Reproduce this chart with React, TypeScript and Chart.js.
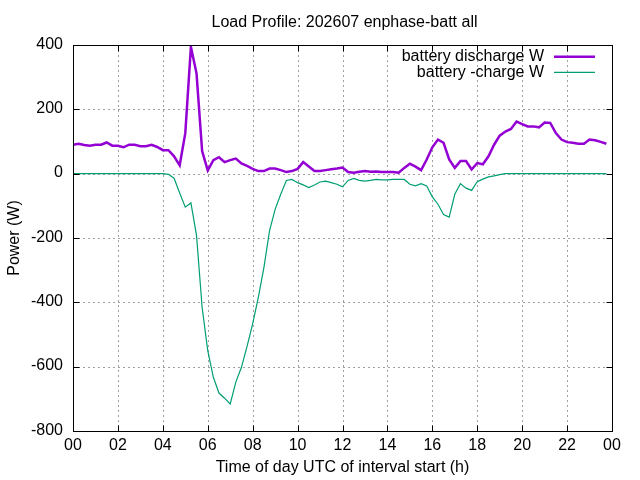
import React, { useEffect, useRef } from "react";
import { Chart, registerables } from "chart.js";

Chart.register(...registerables);

const TITLE = "Load Profile: 202607 enphase-batt all";
const X_TITLE = "Time of day UTC of interval start (h)";
const Y_TITLE = "Power (W)";
const SERIES_NAMES = ["battery discharge W", "battery -charge W"];
const SERIES_COLORS = ["#9400d3", "#009e73"];
const SERIES_WIDTHS = [2.5, 1.2];

const INTERVAL_MINUTES = 15;

const DISCHARGE = [
  90, 93, 89, 87, 90, 90, 97, 87, 87, 82, 90, 90, 85, 85, 90, 83,
  73, 73, 54, 26, 126, 394, 312, 70, 10, 42, 51, 36, 42, 47, 32, 24,
  15, 8, 8, 16, 16, 11, 5, 8, 15, 36, 22, 8, 8, 11, 14, 16,
  19, 5, 3, 6, 8, 6, 7, 5, 5, 5, 3, 18, 31, 22, 11, 44,
  82, 106, 96, 44, 18, 39, 39, 13, 33, 29, 54, 90, 118, 131, 139, 162,
  154, 147, 147, 144, 159, 158, 126, 106, 98, 96, 93, 93, 106, 104, 99, 93,
];

const CHARGE = [
  0, 0, 0, 0, 0, 0, 0, 0, 0, 0, 0, 0, 0, 0, 0, 0,
  0, -2, -14, -60, -104, -91, -192, -416, -550, -633, -682, -698, -716, -648, -602, -537,
  -467, -385, -292, -178, -111, -64, -21, -18, -28, -35, -43, -35, -26, -23, -28, -33,
  -41, -21, -15, -21, -23, -21, -18, -19, -19, -18, -18, -18, -33, -38, -31, -38,
  -72, -95, -127, -135, -64, -31, -45, -52, -25, -17, -10, -7, -3, 0, 0, 0,
  0, 0, 0, 0, 0, 0, 0, 0, 0, 0, 0, 0, 0, 0, 0, 0,
];

const X_TICKS = [0, 2, 4, 6, 8, 10, 12, 14, 16, 18, 20, 22, 24];
const X_TICK_LABELS = ["00", "02", "04", "06", "08", "10", "12", "14", "16", "18", "20", "22", "00"];
const Y_TICKS = [-800, -600, -400, -200, 0, 200, 400];
const Y_TICK_LABELS = ["-800", "-600", "-400", "-200", "0", "200", "400"];

const FONT = "16px 'Liberation Sans', Arial, sans-serif";

const gnuplotPlugin = {
  id: "gnuplotLook",
  beforeDatasetsDraw(chart: any) {
    const { ctx, chartArea: a, scales } = chart;
    const x = scales.x;
    const y = scales.y;
    ctx.save();
    ctx.strokeStyle = "#a0a0a0";
    ctx.lineWidth = 1;
    ctx.setLineDash([2, 3]);
    for (const t of X_TICKS) {
      const px = Math.round(x.getPixelForValue(t)) + 0.5;
      ctx.beginPath();
      ctx.moveTo(px, a.top);
      ctx.lineTo(px, a.bottom);
      ctx.stroke();
    }
    for (const t of Y_TICKS) {
      const py = Math.round(y.getPixelForValue(t)) + 0.5;
      ctx.beginPath();
      ctx.moveTo(a.left, py);
      ctx.lineTo(a.right, py);
      ctx.stroke();
    }
    ctx.restore();
  },
  afterDraw(chart: any) {
    const { ctx, chartArea: a, scales } = chart;
    const x = scales.x;
    const y = scales.y;
    ctx.save();
    ctx.setLineDash([]);
    // border
    ctx.strokeStyle = "#000";
    ctx.lineWidth = 1;
    const L = Math.round(a.left) + 0.5;
    const R = Math.round(a.right) + 0.5;
    const T = Math.round(a.top) + 0.5;
    const B = Math.round(a.bottom) + 0.5;
    ctx.strokeRect(L, T, R - L, B - T);
    // inward ticks
    const tl = 6;
    ctx.beginPath();
    for (const t of X_TICKS) {
      const px = Math.round(x.getPixelForValue(t)) + 0.5;
      ctx.moveTo(px, B);
      ctx.lineTo(px, B - tl);
      ctx.moveTo(px, T);
      ctx.lineTo(px, T + tl);
    }
    for (const t of Y_TICKS) {
      const py = Math.round(y.getPixelForValue(t)) + 0.5;
      ctx.moveTo(L, py);
      ctx.lineTo(L + tl, py);
      ctx.moveTo(R, py);
      ctx.lineTo(R - tl, py);
    }
    ctx.stroke();

    ctx.fillStyle = "#000";
    ctx.font = FONT;
    ctx.textBaseline = "alphabetic";
    // y tick labels
    ctx.textAlign = "right";
    Y_TICKS.forEach((t, i) => {
      const py = y.getPixelForValue(t);
      ctx.fillText(Y_TICK_LABELS[i], a.left - 10, py + 3.5);
    });
    // x tick labels
    ctx.textAlign = "center";
    X_TICKS.forEach((t, i) => {
      const px = x.getPixelForValue(t);
      ctx.fillText(X_TICK_LABELS[i], px, a.bottom + 19);
    });
    // title
    const cx = (a.left + a.right) / 2;
    ctx.fillText(TITLE, cx + 2, 26.5);
    // x title
    ctx.fillText(X_TITLE, cx, 472);
    // y title
    ctx.save();
    ctx.translate(19, (a.top + a.bottom) / 2);
    ctx.rotate(-Math.PI / 2);
    ctx.fillText(Y_TITLE, 0, 0);
    ctx.restore();

    // legend
    const rows = [56.7, 72.3];
    SERIES_NAMES.forEach((name, i) => {
      ctx.textAlign = "right";
      ctx.fillStyle = "#000";
      ctx.fillText(name, 544, rows[i] + 4.5);
      ctx.strokeStyle = SERIES_COLORS[i];
      ctx.lineWidth = SERIES_WIDTHS[i];
      ctx.beginPath();
      ctx.moveTo(554, rows[i]);
      ctx.lineTo(595, rows[i]);
      ctx.stroke();
    });
    ctx.restore();
  },
};

export default function App() {
  const canvasRef = useRef<HTMLCanvasElement | null>(null);

  useEffect(() => {
    const canvas = canvasRef.current;
    if (!canvas) return;
    const hours = DISCHARGE.map((_, i) => (i * INTERVAL_MINUTES) / 60);
    const series = [DISCHARGE, CHARGE];
    const chart = new Chart(canvas, {
      type: "line",
      data: {
        datasets: series.map((vals, si) => ({
          label: SERIES_NAMES[si],
          data: vals.map((v, i) => ({ x: hours[i], y: v })),
          borderColor: SERIES_COLORS[si],
          borderWidth: SERIES_WIDTHS[si],
          pointRadius: 0,
          tension: 0,
          fill: false,
        })),
      },
      options: {
        responsive: false,
        maintainAspectRatio: false,
        animation: false,
        devicePixelRatio: 1,
        layout: { padding: { left: 0, top: 45, right: 28, bottom: 0 } },
        plugins: {
          legend: { display: false },
          title: { display: false },
          tooltip: { enabled: false },
        },
        scales: {
          x: {
            type: "linear",
            min: 0,
            max: 24,
            ticks: { display: false, stepSize: 2 },
            grid: { display: false },
            border: { display: false },
            afterFit: (s: any) => {
              s.height = 49;
            },
          },
          y: {
            type: "linear",
            min: -800,
            max: 400,
            ticks: { display: false, stepSize: 200 },
            grid: { display: false },
            border: { display: false },
            afterFit: (s: any) => {
              s.width = 73;
            },
          },
        },
      },
      plugins: [gnuplotPlugin],
    } as any);
    return () => chart.destroy();
  }, []);

  return (
    <div style={{ position: "absolute", left: 0, top: 0, width: 640, height: 480, background: "#fff" }}>
      <canvas ref={canvasRef} width={640} height={480} style={{ display: "block" }} />
    </div>
  );
}
